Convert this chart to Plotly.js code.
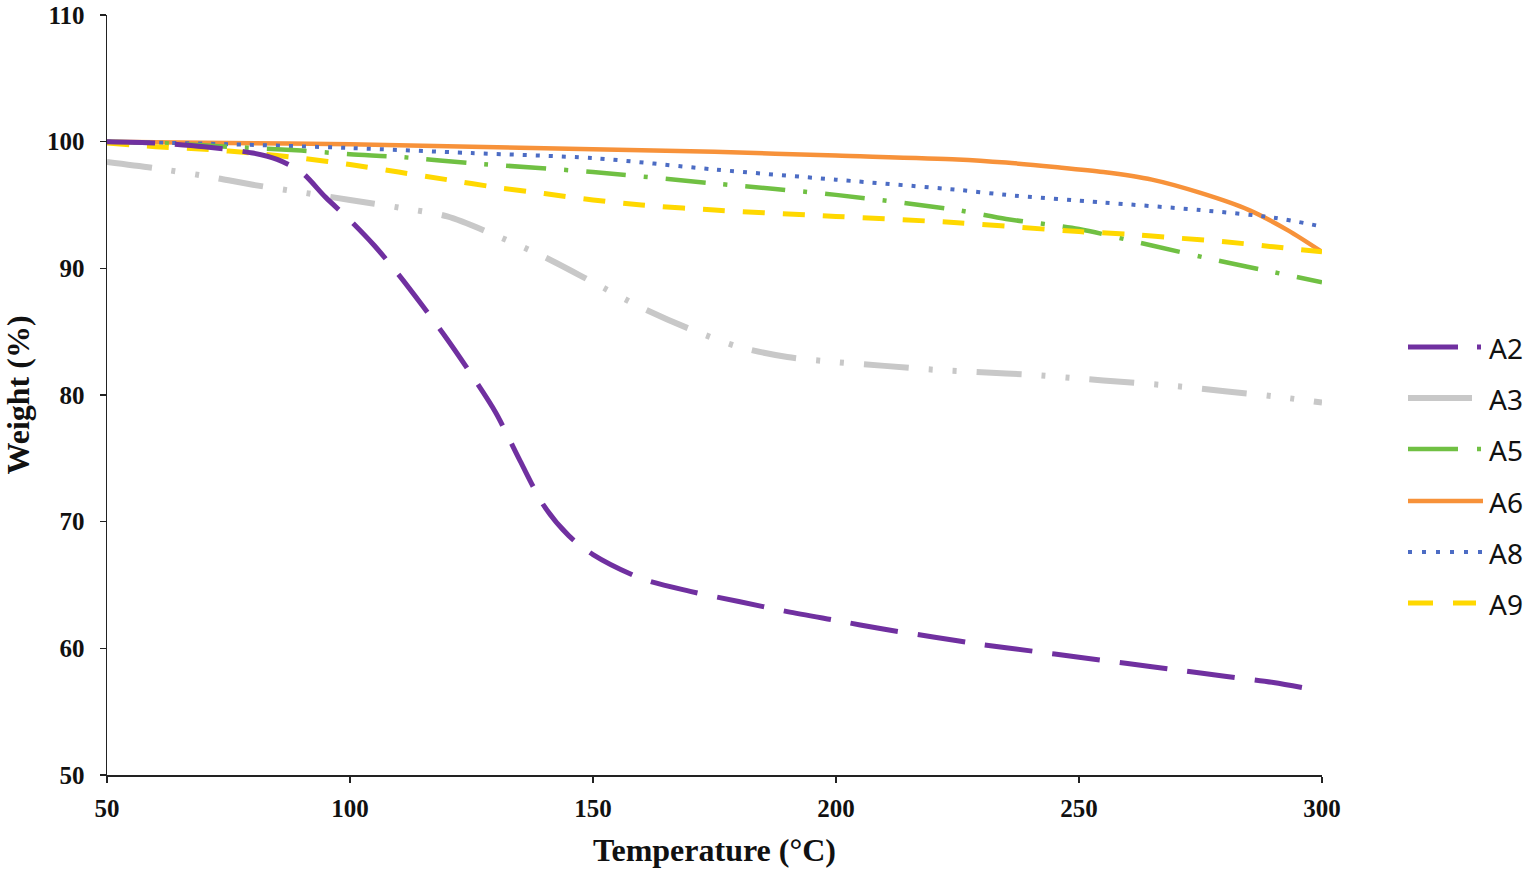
<!DOCTYPE html>
<html>
<head>
<meta charset="utf-8">
<script src="https://cdn.plot.ly/plotly-3.0.1.min.js"></script>
<style>html,body{margin:0;padding:0;background:#fff;}#chart{width:1536px;height:873px;}</style>
</head>
<body>
<div id="chart"></div>
<script>
// ---- data ----
const seriesNames = ["A2", "A3", "A5", "A6", "A8", "A9"];

const tA2 = [50, 60, 70, 80, 85, 90, 95, 100, 105, 110, 115, 120, 125, 130, 135, 140, 145, 150, 160, 170, 180, 190, 200, 210, 220, 230, 240, 250, 260, 270, 280, 290, 296];
const wA2 = [100, 99.9, 99.6, 99.1, 98.6, 97.6, 95.6, 93.8, 91.8, 89.5, 87.0, 84.4, 81.6, 78.6, 74.8, 71.2, 68.9, 67.4, 65.5, 64.5, 63.7, 62.9, 62.2, 61.5, 60.9, 60.3, 59.8, 59.3, 58.8, 58.3, 57.8, 57.3, 56.9];

const tA3 = [50, 60, 70, 80, 90, 100, 110, 120, 130, 140, 150, 160, 170, 180, 190, 200, 210, 220, 230, 240, 250, 260, 270, 280, 290, 300];
const wA3 = [98.4, 97.9, 97.3, 96.6, 96.0, 95.4, 94.8, 94.1, 92.6, 90.9, 88.9, 86.9, 85.2, 83.8, 83.0, 82.6, 82.3, 82.0, 81.8, 81.6, 81.3, 81.0, 80.7, 80.3, 79.9, 79.4];

const tA5 = [50, 60, 75, 90, 100, 110, 125, 150, 175, 200, 225, 235, 250, 265, 280, 290, 300];
const wA5 = [100, 99.9, 99.6, 99.3, 99.0, 98.8, 98.3, 97.6, 96.7, 95.8, 94.6, 93.9, 93.1, 91.8, 90.5, 89.7, 88.9];

const tA6 = [50, 75, 100, 125, 150, 175, 200, 225, 235, 245, 255, 265, 275, 285, 293, 300];
const wA6 = [100, 99.9, 99.8, 99.6, 99.4, 99.2, 98.9, 98.6, 98.35, 98.0, 97.6, 97.0, 95.95, 94.6, 93.0, 91.3];

const tA8 = [50, 75, 100, 125, 150, 175, 200, 225, 235, 255, 275, 290, 300];
const wA8 = [100, 99.8, 99.5, 99.1, 98.7, 97.8, 97.0, 96.2, 95.8, 95.2, 94.6, 94.0, 93.3];

const tA9 = [50, 60, 70, 80, 90, 100, 110, 120, 130, 140, 150, 160, 175, 200, 225, 250, 260, 270, 280, 290, 300];
const wA9 = [99.9, 99.6, 99.4, 99.1, 98.7, 98.2, 97.6, 97.0, 96.4, 95.9, 95.4, 95.0, 94.6, 94.1, 93.6, 92.9, 92.7, 92.4, 92.1, 91.7, 91.3];

const xTicks = [50, 100, 150, 200, 250, 300];
const yTicks = [50, 60, 70, 80, 90, 100, 110];

// ---- styles ----
const colors = {A2: "#7030A0", A3: "#C8C8C8", A5: "#70C043", A6: "#F7923A", A8: "#4C6CC4", A9: "#FFD800"};
const styles = {
  A2: {width: 5, dash: "48px,20px"},
  A3: {width: 6, dash: "45px,20px,4px,20px,4px,20px"},
  A5: {width: 4.5, dash: "40px,18px,4px,18px"},
  A6: {width: 4.5, dash: "solid"},
  A8: {width: 4, dash: "4px,9px"},
  A9: {width: 5, dash: "22px,18px"}
};
const dataMap = {A2: [tA2, wA2], A3: [tA3, wA3], A5: [tA5, wA5], A6: [tA6, wA6], A8: [tA8, wA8], A9: [tA9, wA9]};

// drawing order (later on top)
const order = ["A6", "A8", "A5", "A9", "A3", "A2"];
const traces = order.map(n => ({
  type: "scatter", mode: "lines", name: n,
  x: dataMap[n][0], y: dataMap[n][1],
  line: {color: colors[n], width: styles[n].width, dash: styles[n].dash, shape: "spline", smoothing: 0.8},
  showlegend: false, hoverinfo: "skip"
}));

// plot-area geometry in pixels (for the hand-drawn legend)
const L = 107, R = 1322, T = 15, B = 775;
const px = p => (p - L) / (R - L);
const py = p => (B - p) / (B - T);

const legendRows = {A2: 347, A3: 398, A5: 449, A6: 501, A8: 552, A9: 603};
const legendLineEnd = {A2: 1483, A3: 1472, A5: 1483, A6: 1483, A8: 1483, A9: 1476};
const legendDash = {A2: "50px,19px,4px,20px", A3: "solid", A5: "50px,19px,4px,20px", A6: "solid", A8: "4px,10px", A9: "25px,20px"};
const shapes = [], annotations = [];
seriesNames.forEach(n => {
  const yy = legendRows[n];
  shapes.push({type: "line", xref: "paper", yref: "paper",
    x0: px(1408), x1: px(legendLineEnd[n]), y0: py(yy), y1: py(yy),
    line: {color: colors[n], width: styles[n].width, dash: legendDash[n]}});
  annotations.push({xref: "paper", yref: "paper", x: px(1487), y: py(yy + 1),
    xanchor: "left", yanchor: "middle", showarrow: false, text: n,
    font: {family: "Noto Sans, Open Sans, sans-serif", size: 28, color: "#111"}});
});

const tickFont = {family: "Liberation Serif, Times New Roman, serif", size: 25, color: "#111", weight: "bold"};
const titleFont = {family: "Liberation Serif, Times New Roman, serif", size: 32, color: "#111", weight: "bold"};

const layout = {
  width: 1536, height: 873,
  margin: {l: L, r: 1536 - R, t: T, b: 873 - B, pad: 0},
  paper_bgcolor: "#fff", plot_bgcolor: "#fff",
  showlegend: false,
  xaxis: {
    range: [50, 300], tickvals: xTicks, ticktext: xTicks.map(String),
    showgrid: false, zeroline: false, showline: true, linecolor: "#222", linewidth: 1.5,
    ticks: "outside", ticklen: 6, tickwidth: 1.5, tickcolor: "#222",
    tickfont: tickFont, ticklabelstandoff: 4,
    title: {text: "Temperature (°C)", font: titleFont, standoff: 18}
  },
  yaxis: {
    range: [50, 110], tickvals: yTicks, ticktext: yTicks.map(String),
    showgrid: false, zeroline: false, showline: true, linecolor: "#222", linewidth: 1.5,
    ticks: "outside", ticklen: 6, tickwidth: 1.5, tickcolor: "#222",
    tickfont: tickFont, ticklabelstandoff: 10,
    title: {text: "Weight (%)", font: titleFont, standoff: 12}
  },
  shapes: shapes,
  annotations: annotations
};

Plotly.newPlot("chart", traces, layout, {displayModeBar: false, staticPlot: true});
</script>
</body>
</html>
